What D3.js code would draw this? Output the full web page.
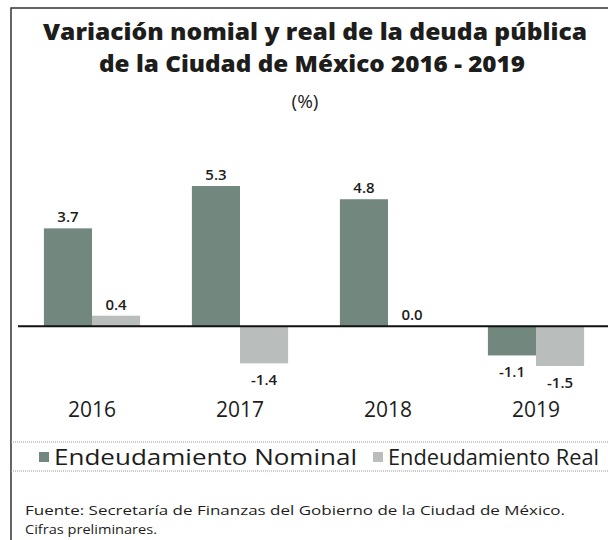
<!DOCTYPE html>
<html lang="es">
<head>
<meta charset="utf-8">
<title>Deuda CDMX</title>
<script src="https://d3js.org/d3.v7.min.js"></script>
<style>
  body { margin: 0; background: #fff; }
  svg { display: block; font-family: "Open Sans", sans-serif; }
</style>
</head>
<body>
<div id="chart"></div>
<script>

// data
var years = ["2016", "2017", "2018", "2019"];
var nominal = [3.7, 5.3, 4.8, -1.1];
var real = [0.4, -1.4, 0.0, -1.5];
var seriesNames = ["Endeudamiento Nominal", "Endeudamiento Real"];
var seriesColors = ["#72877d", "#b9bdbb"];

var W = 608, H = 540;
var ink = "#1d1d1b";

var svg = d3.select("#chart")
  .append("svg")
    .attr("width", W)
    .attr("height", H);

// frame (top + left, the rest is cut off)
svg.append("path")
  .attr("d", "M11,540 L11,8 L608,8")
  .attr("fill", "none")
  .attr("stroke", "#333")
  .attr("stroke-width", 1.5);

/* ---------- title ---------- */
svg.append("text")
  .attr("x", 315).attr("y", 40)
  .attr("text-anchor", "middle")
  .attr("textLength", 544).attr("lengthAdjust", "spacingAndGlyphs")
  .style("font-size", "22px").style("font-weight", 800).attr("fill", ink)
  .text("Variación nomial y real de la deuda pública");
svg.append("text")
  .attr("x", 312).attr("y", 72)
  .attr("text-anchor", "middle")
  .attr("textLength", 426).attr("lengthAdjust", "spacingAndGlyphs")
  .style("font-size", "22px").style("font-weight", 800).attr("fill", ink)
  .text("de la Ciudad de México 2016 - 2019");
svg.append("text")
  .attr("x", 305).attr("y", 108)
  .attr("text-anchor", "middle")
  .style("font-size", "19px").attr("fill", ink)
  .text("(%)");

/* ---------- scales ---------- */
var x0 = d3.scaleBand()
  .domain(years)
  .range([18, 610])
  .paddingInner(0.35)
  .paddingOuter(0.175);

var x1 = d3.scaleBand()
  .domain([0, 1])
  .range([0, x0.bandwidth()]);

var y = d3.scaleLinear()
  .domain([-1.5, 5.3])
  .range([366, 186]);

var rows = [];
years.forEach(function(yr, i) {
  rows.push({year: yr, s: 0, v: nominal[i]});
  rows.push({year: yr, s: 1, v: real[i]});
});

/* ---------- bars ---------- */
svg.append("g")
  .selectAll("rect")
  .data(rows)
  .enter()
  .append("rect")
    .attr("x", function(d) { return x0(d.year) + x1(d.s); })
    .attr("width", x1.bandwidth())
    .attr("y", function(d) { return Math.min(y(d.v), y(0)); })
    .attr("height", function(d) { return Math.abs(y(d.v) - y(0)); })
    .attr("fill", function(d) { return seriesColors[d.s]; });

// value labels
svg.append("g")
  .selectAll("text")
  .data(rows)
  .enter()
  .append("text")
    .attr("x", function(d) { return x0(d.year) + x1(d.s) + x1.bandwidth() / 2; })
    .attr("y", function(d) { return d.v >= 0 ? y(d.v) - 6 : y(d.v) + 22; })
    .attr("text-anchor", "middle")
    .style("font-size", "15px")
    .style("font-weight", 600)
    .attr("fill", ink)
    .text(function(d) { return d.v.toFixed(1); });

// zero line
svg.append("line")
  .attr("x1", 18).attr("x2", 608)
  .attr("y1", y(0)).attr("y2", y(0))
  .attr("stroke", "#111")
  .attr("stroke-width", 2);

// year labels
svg.append("g")
  .selectAll("text")
  .data(years)
  .enter()
  .append("text")
    .attr("x", function(d) { return x0(d) + x0.bandwidth() / 2; })
    .attr("y", 417)
    .attr("text-anchor", "middle")
    .style("font-size", "21px")
    .attr("fill", ink)
    .text(function(d) { return d; });

/* ---------- legend ---------- */
[442, 471].forEach(function(ly) {
  svg.append("line")
    .attr("x1", 11).attr("x2", 608)
    .attr("y1", ly).attr("y2", ly)
    .attr("stroke", "#999")
    .attr("stroke-width", 1)
    .style("stroke-dasharray", "1,1");
});

var legendX = [39, 373];
var legendLen = [303, 211];
seriesNames.forEach(function(name, i) {
  svg.append("rect")
    .attr("x", legendX[i]).attr("y", 452)
    .attr("width", 10).attr("height", 10)
    .attr("fill", seriesColors[i]);
  svg.append("text")
    .attr("x", legendX[i] + 15).attr("y", 465)
    .attr("textLength", legendLen[i]).attr("lengthAdjust", "spacingAndGlyphs")
    .style("font-size", "21px")
    .attr("fill", ink)
    .text(name);
});

/* ---------- source ---------- */
svg.append("text")
  .attr("x", 25).attr("y", 515)
  .attr("textLength", 540).attr("lengthAdjust", "spacingAndGlyphs")
  .style("font-size", "13.5px").attr("fill", ink)
  .text("Fuente: Secretaría de Finanzas del Gobierno de la Ciudad de México.");
svg.append("text")
  .attr("x", 25).attr("y", 534)
  .attr("textLength", 132).attr("lengthAdjust", "spacingAndGlyphs")
  .style("font-size", "13.5px").attr("fill", ink)
  .text("Cifras preliminares.");

</script>
</body>
</html>
